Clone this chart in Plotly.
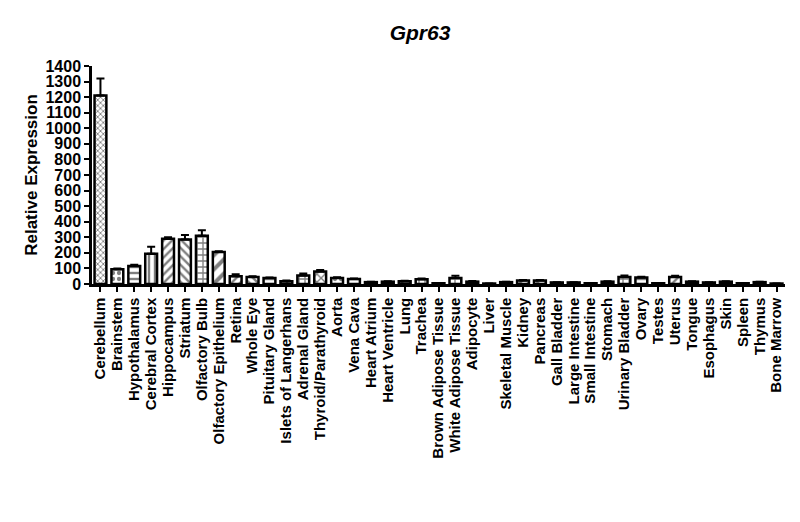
import plotly.graph_objects as go

tissues = ["Cerebellum", "Brainstem", "Hypothalamus", "Cerebral Cortex", "Hippocampus",
           "Striatum", "Olfactory Bulb", "Olfactory Epithelium", "Retina", "Whole Eye",
           "Pituitary Gland", "Islets of Langerhans", "Adrenal Gland", "Thyroid/Parathyroid",
           "Aorta", "Vena Cava", "Heart Atrium", "Heart Ventricle", "Lung", "Trachea",
           "Brown Adipose Tissue", "White Adipose Tissue", "Adipocyte", "Liver",
           "Skeletal Muscle", "Kidney", "Pancreas", "Gall Bladder", "Large Intestine",
           "Small Intestine", "Stomach", "Urinary Bladder", "Ovary", "Testes", "Uterus",
           "Tongue", "Esophagus", "Skin", "Spleen", "Thymus", "Bone Marrow"]

expression = [1210, 95, 115, 195, 290, 285, 310, 205, 50, 45,
              38, 18, 55, 80, 38, 32, 12, 15, 18, 30,
              5, 38, 15, 3, 12, 22, 22, 10, 10, 5,
              15, 45, 42, 5, 45, 15, 10, 15, 5, 12, 3]

sem = [110, 5, 8, 45, 10, 30, 35, 5, 12, 5,
       4, 4, 12, 10, 6, 4, 3, 3, 3, 5,
       2, 15, 4, 1, 3, 4, 4, 2, 2, 1,
       3, 10, 5, 1, 8, 3, 2, 3, 1, 3, 1]

patterns = ["x", ".", "-", "|", "/", "\\", "+", "/",
            "/", "\\", "-", "|", "+", "x", ".", "-",
            "|", "/", "\\", "+", "x", "+", ".", "-",
            "|", "/", "\\", "+", "x", ".", "-", "+",
            "-", "|", "/", "\\", "+", "x", ".", "-", "|"]
sizes = [4 if p == "x" and i == 0 else 6 for i, p in enumerate(patterns)]
sizes[7] = 10

FONT = "Liberation Sans, Arial"

fig = go.Figure(go.Bar(
    x=tissues,
    y=expression,
    width=0.7,
    marker=dict(color="white", line=dict(color="black", width=2.5),
                pattern=dict(shape=patterns, fgcolor="black", size=sizes, solidity=0.4)),
    error_y=dict(type="data", symmetric=False, array=sem, arrayminus=[0] * len(sem),
                 color="black", thickness=2, width=4),
))

fig.update_layout(
    width=800, height=522,
    paper_bgcolor="white", plot_bgcolor="white",
    margin=dict(l=92, r=15, t=66, b=238, autoexpand=False),
    showlegend=False,
    title=dict(text="<b><i>Gpr63</i></b>", x=0.525, xanchor="center", y=0.937,
               yanchor="middle", font=dict(family=FONT, size=21, color="black")),
    font=dict(family=FONT, color="black"),
)
fig.update_xaxes(
    range=[-0.5, 40.5], showline=True, linecolor="black", linewidth=2.5,
    tickmode="array", tickvals=tissues, ticktext=["<b>%s</b>" % t for t in tissues],
    ticks="outside", ticklen=5, tickwidth=2, tickcolor="black", tickangle=-90,
    tickfont=dict(size=15, family=FONT), automargin=False, showgrid=False,
)
fig.update_yaxes(
    range=[0, 1400], dtick=100, showline=True, linecolor="black", linewidth=2.5,
    ticks="outside", ticklen=5, tickwidth=2, tickcolor="black",
    tickfont=dict(size=16, family=FONT), automargin=False,
    tickprefix="<b>", ticksuffix="</b>", showgrid=False, zeroline=False,
    title=dict(text="<b>Relative Expression</b>", font=dict(size=17), standoff=4),
)

fig.write_html("out.html", config={"displayModeBar": False},
               post_script="document.body.style.margin='0';")
